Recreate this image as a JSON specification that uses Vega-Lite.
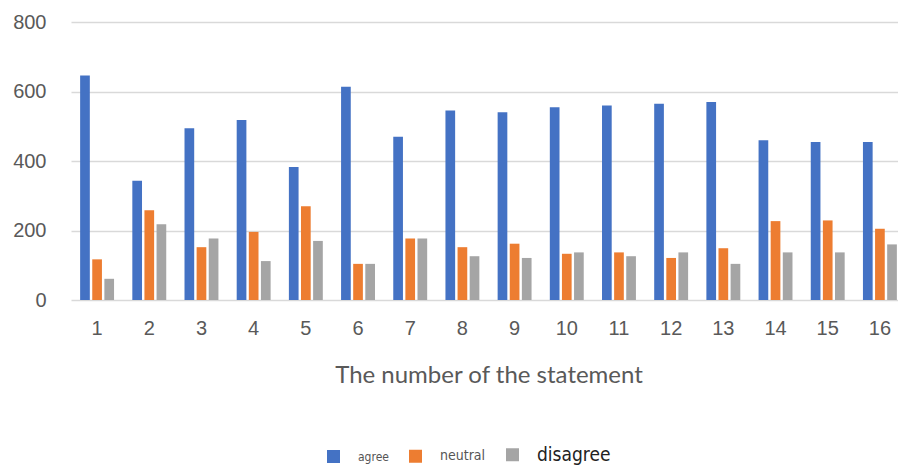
{
  "$schema": "https://vega.github.io/schema/vega-lite/v6.json",
  "autosize": "none",
  "padding": {"left": 71, "top": 22, "right": 0, "bottom": 167},
  "width": 835,
  "height": 278,
  "background": "white",
  "config": {"view": {"stroke": null}, "font": "Lato"},
  "data": {"values": [
    {"s": 1, "r": "agree", "v": 646}, {"s": 1, "r": "neutral", "v": 117}, {"s": 1, "r": "disagree", "v": 61},
    {"s": 2, "r": "agree", "v": 343}, {"s": 2, "r": "neutral", "v": 258}, {"s": 2, "r": "disagree", "v": 218},
    {"s": 3, "r": "agree", "v": 494}, {"s": 3, "r": "neutral", "v": 152}, {"s": 3, "r": "disagree", "v": 177},
    {"s": 4, "r": "agree", "v": 518}, {"s": 4, "r": "neutral", "v": 196}, {"s": 4, "r": "disagree", "v": 112},
    {"s": 5, "r": "agree", "v": 383}, {"s": 5, "r": "neutral", "v": 270}, {"s": 5, "r": "disagree", "v": 170},
    {"s": 6, "r": "agree", "v": 614}, {"s": 6, "r": "neutral", "v": 104}, {"s": 6, "r": "disagree", "v": 104},
    {"s": 7, "r": "agree", "v": 470}, {"s": 7, "r": "neutral", "v": 177}, {"s": 7, "r": "disagree", "v": 177},
    {"s": 8, "r": "agree", "v": 545}, {"s": 8, "r": "neutral", "v": 152}, {"s": 8, "r": "disagree", "v": 126},
    {"s": 9, "r": "agree", "v": 540}, {"s": 9, "r": "neutral", "v": 162}, {"s": 9, "r": "disagree", "v": 121},
    {"s": 10, "r": "agree", "v": 555}, {"s": 10, "r": "neutral", "v": 133}, {"s": 10, "r": "disagree", "v": 137},
    {"s": 11, "r": "agree", "v": 560}, {"s": 11, "r": "neutral", "v": 137}, {"s": 11, "r": "disagree", "v": 126},
    {"s": 12, "r": "agree", "v": 565}, {"s": 12, "r": "neutral", "v": 121}, {"s": 12, "r": "disagree", "v": 137},
    {"s": 13, "r": "agree", "v": 570}, {"s": 13, "r": "neutral", "v": 149}, {"s": 13, "r": "disagree", "v": 104},
    {"s": 14, "r": "agree", "v": 460}, {"s": 14, "r": "neutral", "v": 227}, {"s": 14, "r": "disagree", "v": 137},
    {"s": 15, "r": "agree", "v": 455}, {"s": 15, "r": "neutral", "v": 229}, {"s": 15, "r": "disagree", "v": 137},
    {"s": 16, "r": "agree", "v": 455}, {"s": 16, "r": "neutral", "v": 205}, {"s": 16, "r": "disagree", "v": 160}
  ]},
  "mark": {"type": "bar"},
  "encoding": {
    "x": {
      "field": "s", "type": "ordinal",
      "scale": {"paddingInner": 0.35, "paddingOuter": 0.175},
      "axis": {
        "title": "The number of the statement",
        "labelAngle": 0, "labelFontSize": 20, "labelColor": "#595959", "labelFont": "Liberation Sans",
        "labelPadding": 18, "ticks": false, "domain": false, "labelOverlap": false,
        "titleFontSize": 24, "titleFontWeight": "normal", "titleColor": "#595959", "titlePadding": 25, "titleFont": "Lato"
      }
    },
    "xOffset": {"field": "r", "type": "nominal", "sort": ["agree", "neutral", "disagree"], "scale": {"paddingInner": 0.2}},
    "y": {
      "field": "v", "type": "quantitative",
      "scale": {"domain": [0, 800]},
      "axis": {
        "title": null, "values": [0, 200, 400, 600, 800], "labelOverlap": false,
        "labelFontSize": 20, "labelColor": "#595959", "labelFont": "Liberation Sans", "labelPadding": 25,
        "ticks": false, "domain": false, "gridColor": "#d9d9d9", "gridWidth": 1.5
      }
    },
    "color": {
      "field": "r", "type": "nominal",
      "sort": ["agree", "neutral", "disagree"],
      "scale": {"domain": ["agree", "neutral", "disagree"], "range": ["#4472C4", "#ED7D31", "#A5A5A5"]},
      "legend": {
        "title": null, "orient": "none", "direction": "horizontal", "legendX": 256, "legendY": 426, "padding": 0,
        "symbolType": "square", "symbolSize": 169, "symbolStrokeWidth": 0,
        "labelFont": "'DejaVu Sans Condensed', 'Liberation Sans', sans-serif",
        "labelFontSize": {"expr": "datum.label == 'disagree' ? 19 : (datum.label == 'neutral' ? 14 : 12)"},
        "labelColor": {"expr": "datum.label == 'disagree' ? '#222222' : '#555555'"},
        "columnPadding": 20, "labelOffset": 18
      }
    }
  }
}
